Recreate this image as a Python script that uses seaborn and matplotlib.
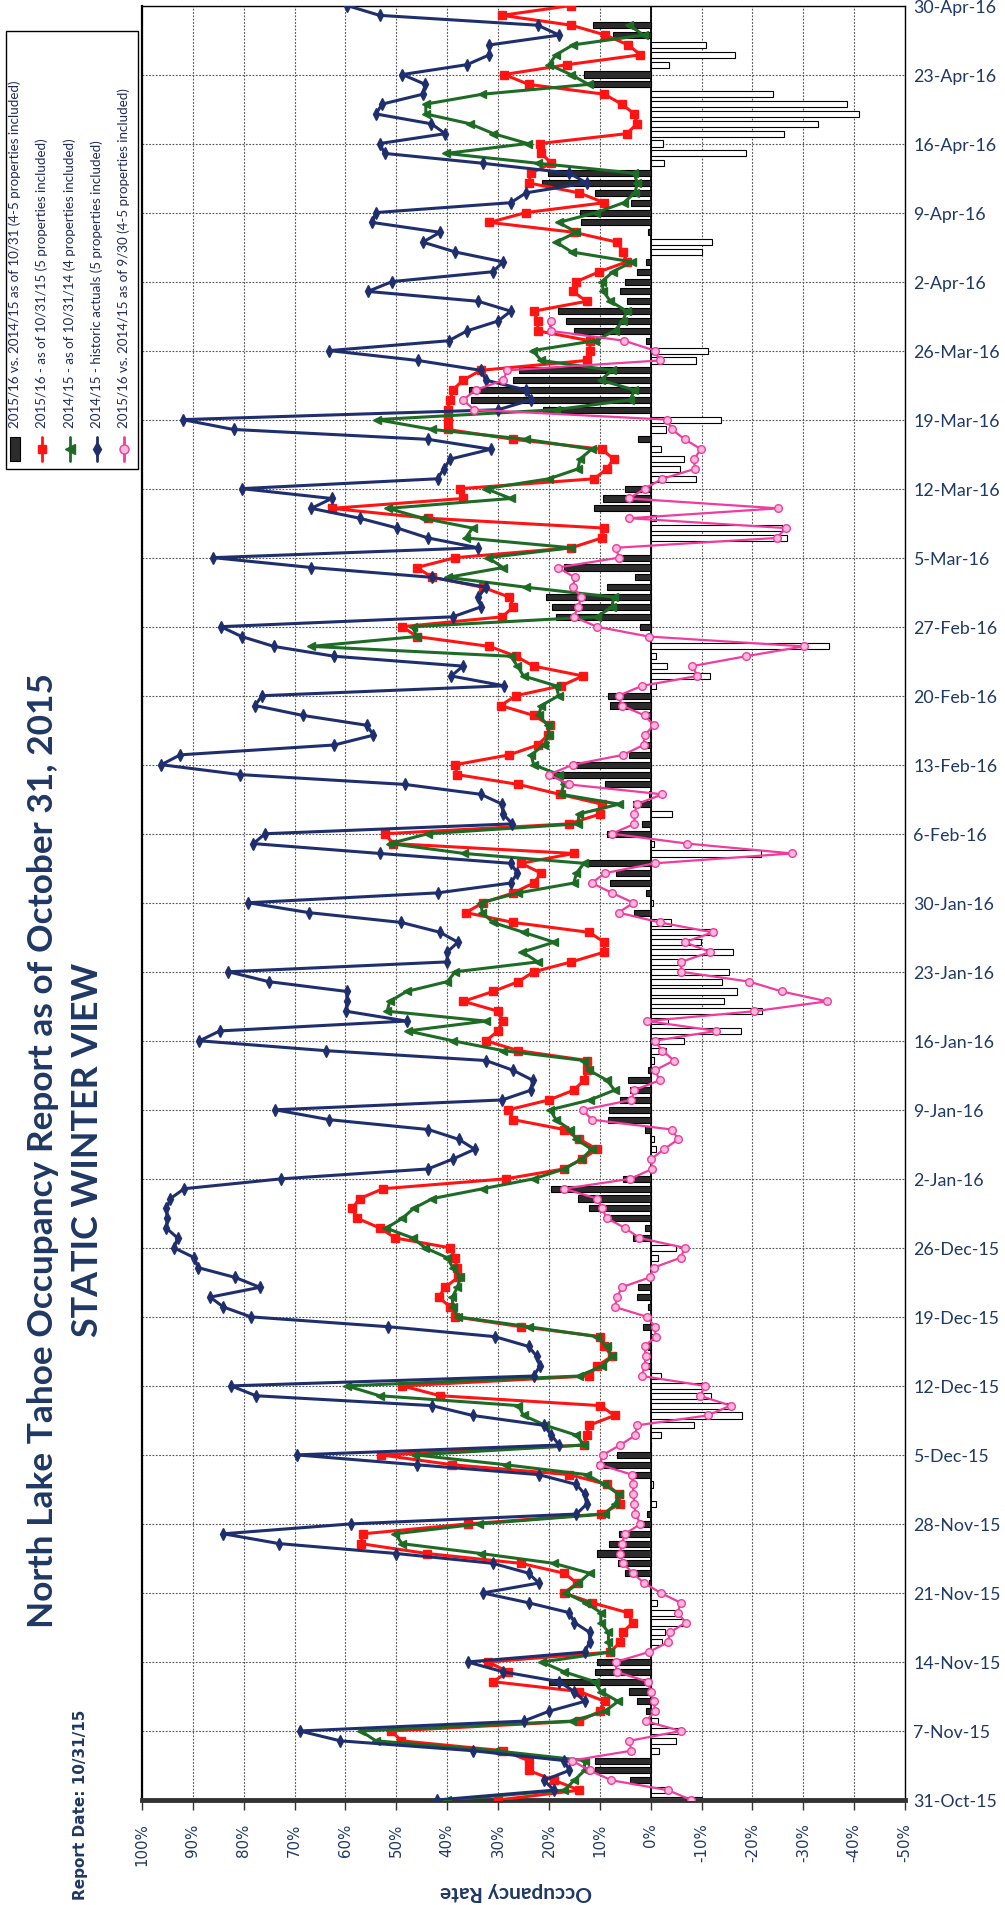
import numpy as np
import pandas as pd
import matplotlib
matplotlib.use("Agg")
import matplotlib.pyplot as plt
import seaborn as sns
from matplotlib.lines import Line2D
from matplotlib.patches import Rectangle

# ---------------- DATA (day 0 = 31-Oct-15 ... day 182 = 30-Apr-16) ----------------
date_labels = ["31-Oct-15", "7-Nov-15", "14-Nov-15", "21-Nov-15", "28-Nov-15", "5-Dec-15",
               "12-Dec-15", "19-Dec-15", "26-Dec-15", "2-Jan-16", "9-Jan-16", "16-Jan-16",
               "23-Jan-16", "30-Jan-16", "6-Feb-16", "13-Feb-16", "20-Feb-16", "27-Feb-16",
               "5-Mar-16", "12-Mar-16", "19-Mar-16", "26-Mar-16", "2-Apr-16", "9-Apr-16",
               "16-Apr-16", "23-Apr-16", "30-Apr-16"]
rate_ticks = [100, 90, 80, 70, 60, 50, 40, 30, 20, 10, 0, -10, -20, -30, -40, -50]
rate_labels = ["100%", "90%", "80%", "70%", "60%", "50%", "40%", "30%", "20%", "10%",
               "0%", "-10%", "-20%", "-30%", "-40%", "-50%"]

# 2014/15 - historic actuals (navy)
historic_1415 = [
    42, 19, 21, 16, 17, 35, 61,
    69, 25, 20, 13, 15, 18, 29,
    36, 13, 12, 12, 15, 16, 24,
    33, 22, 24, 31, 50, 73, 84,
    59, 14.6, 12.6, 12.9, 14.6, 22, 46,
    69.6, 18, 19.5, 21, 35, 43, 77.6,
    82.5, 23, 21.8, 22.4, 24, 30.7, 51.6,
    78.6, 84, 86.6, 76.8, 81.7, 89, 89.7,
    93.7, 93, 95.2, 95, 95.2, 94.4, 91.7,
    72.6, 43.8, 38.9, 34.6, 37.7, 43.7, 63.2,
    73.8, 29.2, 23.5, 23.2, 27, 32.4, 63.9,
    88.7, 84.7, 48, 59.9, 59.7, 59.7, 75.1,
    83, 40, 40, 37.9, 41.4, 49, 67.2,
    79.1, 41.9, 27.5, 26.2, 27.5, 53.3, 78.1,
    75.8, 27.2, 29, 29.2, 33.4, 48.3, 80.8,
    96.2, 92.5, 62.2, 54.5, 55.8, 68.4, 77.8,
    76.4, 28.8, 39.2, 36.9, 62.2, 74.1, 80.4,
    84.5, 38.9, 33.4, 33.9, 32.4, 42.9, 66.7,
    86, 33.9, 43.8, 49.8, 57.2, 66.7, 62.7,
    80.4, 41.9, 40.7, 39.4, 31.4, 43.8, 82,
    92, 30, 23.5, 24.5, 32.4, 33.4, 45.8,
    63.2, 39.7, 36.1, 30, 27.5, 33.9, 55.6,
    50.8, 31, 29, 38.4, 44.8, 41.4, 54.8,
    54, 27.5, 24.5, 12.6, 16, 33, 52.3,
    53.3, 40.4, 43.1, 54, 52.8, 44.8, 44.3,
    48.8, 36.1, 31.7, 31.7, 18, 22.2, 53.3,
    59.7]

# 2015/16 - as of 10/31/15 (red)
otb_1516 = [
    30, 14, 19, 24, 24, 29, 49,
    51, 14, 10, 9, 14, 31, 28,
    32, 8, 6, 5.5, 3.5, 4.5, 11.5,
    17, 14.5, 17, 25.5, 44, 57, 56.5,
    36, 9.8, 6, 6.3, 8.6, 16, 39,
    53, 13.1, 12.6, 12.1, 7.1, 9.9, 41.4,
    48.8, 12.1, 10.6, 7.6, 9.1, 9.9, 25.5,
    38.4, 39.4, 41.7, 40.4, 37.9, 38.1, 38.5,
    39.4, 50.2, 53.2, 57.7, 58.7, 57.2, 52.6,
    28.5, 17.1, 13.5, 10.5, 14, 17, 27,
    28, 20, 15.1, 13.1, 12.6, 12.5, 26,
    32.4, 30, 29, 30, 36.8, 31, 26,
    23, 15.6, 9.1, 9.1, 12.1, 27, 36.3,
    33, 27, 23, 21.5, 25.5, 15.1, 50.6,
    52.3, 16.1, 9.9, 9.6, 17.9, 26, 38.1,
    38.4, 27.8, 22.2, 20.2, 19.8, 23, 29.5,
    26.5, 17.6, 13.3, 23, 26.5, 31.7, 46,
    48.8, 29.2, 27, 27.8, 33, 42.9, 46,
    38.4, 15.6, 9.6, 9.1, 43.8, 62.7, 36.9,
    37.4, 11.1, 8.6, 7.3, 9.6, 27, 39.9,
    39.9, 39.9, 39.4, 38.9, 36.9, 33.4, 12.6,
    11.9, 12, 22.2, 22.2, 23, 12.6, 15.3,
    14.6, 10.1, 4.7, 5.4, 6.6, 15.1, 31.7,
    24.5, 9.1, 14.1, 24, 23.5, 19.5, 21.5,
    21.8, 4.7, 2.7, 3.2, 5.7, 9.1, 24,
    28.8, 16.4, 2, 4.4, 8.9, 15.6, 29.2,
    15.6]

# 2014/15 - as of 10/31/14 (green)
otb_1415 = [
    40, 17, 15, 13, 13, 30.6, 54,
    57, 15.5, 9, 6.4, 9.8, 11, 17,
    21.4, 7.9, 8.3, 8.3, 9.8, 9.8, 12.7,
    16.8, 14.2, 12, 19, 33.4, 48.9, 50.2,
    33.8, 9, 7, 6.2, 9.1, 12.6, 28.5,
    46.3, 13.1, 14.6, 20.7, 25, 26, 53.3,
    59.7, 14.1, 9.6, 7.6, 8.6, 10.6, 24,
    37.9, 38.9, 39, 38, 37.4, 38.9, 40,
    44.3, 46.8, 52, 48.8, 46.6, 42.9, 33,
    23, 17, 13.6, 11.6, 14.6, 15.9, 18.6,
    19.8, 11.9, 7.1, 8.6, 12.1, 13.1, 29,
    38.9, 47.8, 32.4, 51.8, 51.3, 48, 40,
    38.4, 22.2, 25.2, 19, 25, 31, 33.1,
    33.4, 26, 15.1, 14.6, 13.1, 36.7, 51.3,
    43.8, 14.3, 14.1, 6.2, 17.6, 17.1, 18.1,
    23, 23.5, 21, 20, 20.2, 22, 21.5,
    18.1, 18.6, 25, 26.2, 27.5, 66.7, 46,
    46.8, 10.6, 7.6, 7.3, 24.5, 39.9, 29,
    32, 15.6, 36.4, 35, 44.8, 51.6, 27.5,
    32.4, 20, 14.3, 13.9, 11.6, 24.5, 42.9,
    53.8, 18.7, 4, 3.2, 9.8, 7.6, 21.5,
    23.2, 11, 7.1, 5.5, 4.7, 7.9, 9.3,
    9.6, 7.4, 3.7, 15.5, 18.6, 14.6, 18.1,
    10.7, 5.3, 3.1, 2.6, 3.3, 22.2, 40.2,
    24.2, 30.9, 35.5, 44.2, 44.2, 33.1, 12.2,
    15.7, 20, 18.6, 15.3, 1.4, 4.2, None,
    None]

# 2015/16 vs. 2014/15 as of 10/31 (bars)
diff_1031 = [
    -10, -3, 4, 11, 11, -1.6, -5,
    -6, -1.5, 1, 2.6, 4.2, 20, 11,
    10.6, 0.1, -2.3, -2.8, -6.3, -5.3, -1.2,
    0.2, 0.3, 5, 6.5, 10.6, 8.1, 6.3,
    2.2, 0.8, -1, 0.1, -0.5, 3.4, 10.5,
    6.7, 0, -2, -8.6, -17.9, -16.1, -11.9,
    -10.9, -2, 1, 0, 0.5, -0.7, 1.5,
    0.5, 0.5, 2.7, 2.4, 0.5, -0.8, -1.5,
    -4.9, 3.4, 1.2, 8.9, 12.1, 14.3, 19.6,
    5.5, 0.1, -0.1, -1.1, -0.6, 1.1, 8.4,
    8.2, 6, 4, 4.5, 0.5, -0.6, -3,
    -6.5, -17.8, -3.4, -21.8, -14.5, -17, -14,
    -15.4, -6.6, -16.1, -9.9, -12.9, -4, 3.2,
    -0.4, 1, 7.9, 6.9, 12.4, -21.6, -0.7,
    8.5, 1.8, -4.2, 3.4, 0.3, 8.9, 20,
    15.4, 4.3, 1.2, 0.2, -0.4, 1, 8,
    8.4, -1, -11.7, -3.2, -1, -35, 0.5,
    2, 18.6, 19.4, 20.5, 8.5, 3, 17,
    6.4, 0, -26.8, -25.9, -1, 11.1, 9.4,
    5, -8.9, -5.7, -6.6, -2, 2.5, -3,
    -13.9, 21.2, 35.4, 35.7, 27.1, 25.8, -8.9,
    -11.3, 1, 15.1, 16.7, 18.3, 4.7, 6,
    5, 2.7, 1, -10.1, -12, 0.5, 13.6,
    13.8, 3.8, 11, 21.4, 20.2, -2.7, -18.7,
    -2.4, -26.2, -32.8, -41, -38.5, -24, 11.8,
    13.1, -3.6, -16.6, -10.9, 7.5, 11.4, None,
    None]

# 2015/16 vs. 2014/15 as of 9/30 (pink) - days 0..150
diff_0930 = [
    -8, -3.4, 7.7, 12, 15.5, 3.8, 4.2,
    -5.9, 1, -0.9, -0.6, 0, 0.6, 6.7,
    6.9, 0.4, -3.4, -3.8, -6.9, -5.3, -5.9,
    -2, 1.3, 3.5, 5.4, 6, 5.7, 5,
    2, 3, 3.2, 3.4, 3.5, 3.7, 10,
    9.4, 6, 3, 2.7, -11.2, -15.7, -9.7,
    -10.7, 1.7, 1.2, 1, 1.2, -1, -0.8,
    0.7, 7, 6.6, 5.7, 0.2, -0.6, -5.9,
    -6.7, 2.2, 5, 8.6, 9.6, 10.6, 17,
    4, -0.3, -0.1, -2.6, -5.4, -4.2, 11.6,
    13.3, 3.8, 3.2, -1.8, -0.8, -4.6, -2.3,
    -0.8, -12.9, 0.7, -20.4, -34.7, -25.8, -19.4,
    -6, -6, -11.7, -6.7, -12.2, -1.8, 6.3,
    3.4, 7.6, 11.6, 9, -0.8, -27.8, -7.2,
    7.6, 3.2, 3.2, 2.7, -2.3, 16.1, 20,
    15.3, 5.4, 1.4, 1.2, -0.6, 1.2, 5.7,
    6.3, 1.7, -9.2, -8.2, -18.7, -30.1, 0.4,
    10.6, 15.1, 14.3, 13.6, 15.3, 14.9, 18.3,
    6.2, 6.9, -24.8, -26.6, 4.2, -25.1, 4.2,
    1.2, -2.3, -8.7, -8.5, -9.9, -6.7, -4.2,
    -3.2, 34.7, 36.9, 34.4, 29, 28.2, -1.8,
    -0.8, 5.2, 19.6, 19.6]

legend_labels = ["2015/16 vs. 2014/15 as of 10/31 (4-5 properties included)",
                 "2015/16 - as of 10/31/15 (5 properties included)",
                 "2014/15 - as of 10/31/14 (4 properties included)",
                 "2014/15 - historic actuals (5 properties included)",
                 "2015/16 vs. 2014/15 as of 9/30 (4-5 properties included)"]

# ---------------- STYLE ----------------
NAVY_TXT = "#1F3864"
RED = "#FF1414"
GREEN = "#1E6B25"
NAVY = "#1F2F6E"
PINK = "#F03C9E"
PINK_FACE = "#F9B9DA"
BAR_DARK = "#2C2C2C"

sns.set_theme(style="ticks")
plt.rcParams["font.family"] = ["DejaVu Sans"]


def to_df(vals):
    df = pd.DataFrame({"day": np.arange(len(vals)),
                       "val": pd.to_numeric(pd.Series(vals), errors="coerce")})
    return df.dropna()


fig = plt.figure(figsize=(10.05, 19.06), dpi=100)
ax = fig.add_axes([142 / 1005, 1 - 1801 / 1906, (905 - 142) / 1005, (1801 - 6.5) / 1906])
ax.set_facecolor("white")

# bars
bar_df = to_df(diff_1031)
bar_df["sign"] = np.where(bar_df["val"] >= 0, "pos", "neg")
sns.barplot(data=bar_df, x="val", y="day", hue="sign", orient="y", native_scale=True,
            palette={"pos": BAR_DARK, "neg": "white"}, hue_order=["pos", "neg"], dodge=False,
            width=0.62, edgecolor="black", linewidth=0.8, errorbar=None, legend=False,
            ax=ax, zorder=2)

ax.axvline(0, color="black", lw=1.3, zorder=1.8)

line_specs = [
    (otb_1516, RED, "s", 5.2, RED),
    (otb_1415, GREEN, "<", 5.8, GREEN),
    (historic_1415, NAVY, "d", 5.8, NAVY),
    (diff_0930, PINK, "o", 5.5, PINK_FACE),
]
for i, (vals, col, mk, ms, face) in enumerate(line_specs):
    sns.lineplot(data=to_df(vals), x="val", y="day", orient="y", color=col,
                 lw=(1.6 if col == PINK else 2.2),
                 marker=mk, markersize=ms, markeredgecolor=col, markerfacecolor=face,
                 markeredgewidth=1.0, errorbar=None, ax=ax, zorder=4 + i)

ax.set_xlim(100, -50)
ax.set_ylim(0, 182)

ax.set_xticks(rate_ticks)
ax.set_xticklabels(rate_labels, rotation=90, fontsize=10.8, color=NAVY_TXT)
ax.set_yticks(np.arange(0, 183, 7))
ax.set_yticklabels(date_labels, fontsize=12.8, color=NAVY_TXT, family=["Lato", "DejaVu Sans"])
ax.yaxis.tick_right()
ax.tick_params(axis="y", which="both", length=0, pad=5.8, labelright=True, labelleft=False)
ax.tick_params(axis="x", which="both", bottom=True, length=7, width=1, color="#333333",
               direction="out", pad=9)

ax.grid(True, axis="both", color="#555555", linestyle=(0, (1.6, 1.4)), linewidth=0.8, zorder=0)
ax.set_axisbelow(True)

for s in ax.spines.values():
    s.set_visible(True)
    s.set_color("black")
    s.set_linewidth(1.0)
ax.spines["bottom"].set_linewidth(3.5)
ax.spines["bottom"].set_color("#333333")
ax.spines["left"].set_linewidth(1.6)

ax.set_ylabel("")
ax.set_xlabel("Occupancy Rate", rotation=180, fontsize=15, fontweight="bold", color=NAVY_TXT,
              family=["Lato", "DejaVu Sans"])
ax.xaxis.set_label_coords((516 - 142) / 763, (1801 - 1892) / 1794.5)
ax.xaxis.label.set_va("center")

# titles (font size fitted to the measured text length in the reference)
t1 = fig.text(43 / 1005, 1 - 1150 / 1906,
              "North Lake Tahoe Occupancy Report as of October 31, 2015",
              rotation=90, ha="center", va="center", fontsize=20, fontweight="bold",
              color=NAVY_TXT, family=["Lato", "DejaVu Sans"])
t2 = fig.text(88 / 1005, 1 - 1150 / 1906, "STATIC WINTER VIEW", rotation=90, ha="center",
              va="center", fontsize=20, fontweight="bold", color=NAVY_TXT,
              family=["Lato", "DejaVu Sans"])
t3 = fig.text(80 / 1005, 1 - 1805 / 1906, "Report Date: 10/31/15", rotation=90, ha="center",
              va="center", fontsize=11, fontweight="bold", color=NAVY_TXT)

fig.canvas.draw()
renderer = fig.canvas.get_renderer()
for txt, target in [(t1, 955.0), (t2, 375.0), (t3, 190.0)]:
    h = txt.get_window_extent(renderer).height
    txt.set_fontsize(txt.get_fontsize() * target / h)

# legend (rotated, drawn in figure coordinates)
fig.add_artist(Rectangle((6 / 1005, 1 - 470 / 1906), 132 / 1005, 438 / 1906,
                         transform=fig.transFigure, facecolor="white", edgecolor="black",
                         linewidth=1.0, zorder=10))
entry_x = [15, 42, 70, 97, 124]
hy0, hy1 = 1 - 462 / 1906, 1 - 438 / 1906
for k, (xp, lab) in enumerate(zip(entry_x, legend_labels)):
    fx = xp / 1005
    if k == 0:
        fig.add_artist(Rectangle((fx - 5 / 1005, hy0), 10 / 1005, hy1 - hy0,
                                 transform=fig.transFigure, facecolor=BAR_DARK,
                                 edgecolor="black", lw=0.8, zorder=11))
    else:
        vals, col, mk, ms, face = line_specs[k - 1]
        fig.add_artist(Line2D([fx, fx], [hy0, hy1], transform=fig.transFigure, color=col,
                              lw=2.0, zorder=11))
        fig.add_artist(Line2D([fx], [(hy0 + hy1) / 2], transform=fig.transFigure, color=col,
                              marker=mk, markersize=ms + 1, markerfacecolor=face,
                              markeredgecolor=col, zorder=12))
    fig.text(fx, 1 - 428 / 1906, lab, rotation=90, ha="center", va="bottom", fontsize=9.6,
             color="#1F2A5A", family=["Lato", "DejaVu Sans"], zorder=12)

fig.savefig("out.png", dpi=100)
